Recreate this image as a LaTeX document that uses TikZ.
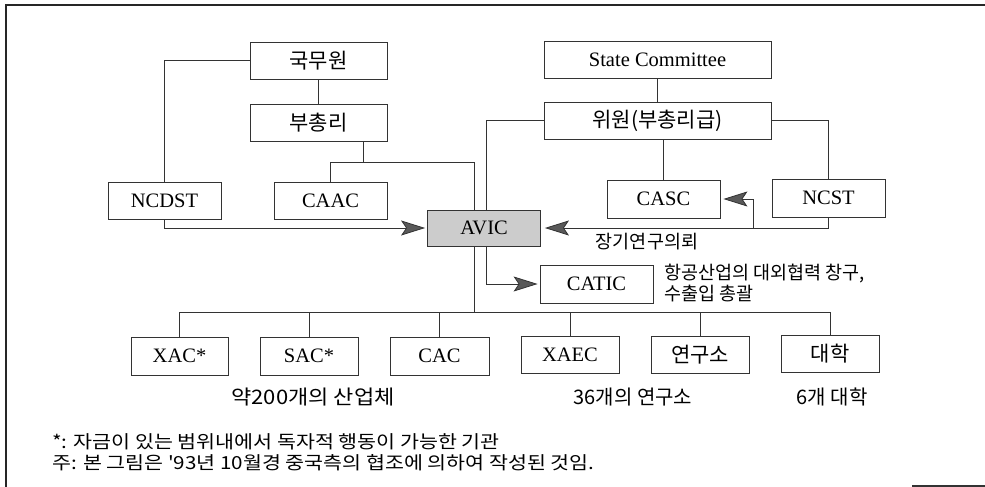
\documentclass[tikz,border=0pt]{standalone}
\usepackage{fontspec}
\setmainfont{Liberation Serif}
\newfontfamily\kr{Noto Sans CJK KR}
\usetikzlibrary{arrows.meta}
\begin{document}
\begin{tikzpicture}[x=1pt,y=-1pt,
  box/.style={draw=black!80,line width=0.8pt,inner sep=0pt,font=\fontsize{20.5}{24}\selectfont},
  krbox/.style={box,font=\kr\fontsize{21}{24}\selectfont},
  conn/.style={draw=black!80,line width=0.8pt},
  arr/.style={conn,-{Stealth[length=24pt,width=15pt,inset=5pt,fill=black!65,line width=0.8pt]}},
  lbl/.style={inner sep=0pt,font=\kr\fontsize{18.5}{21}\selectfont},
  blbl/.style={inner sep=0pt,font=\kr\fontsize{20}{22}\selectfont},
  fnote/.style={inner sep=0pt,transform shape,xscale=1.145,font=\kr\fontsize{18}{21}\selectfont}]
\useasboundingbox (0,0) rectangle (985,487);
% frame
\draw[line width=2pt,black!85] (6,487) -- (6,5) -- (985,5);
\draw[line width=1.2pt,black!80] (912,486) -- (985,486);
% boxes
\node[krbox,minimum width=137pt,minimum height=37pt] (gukmu) at (318.5,60.5) {국무원};
\node[krbox,minimum width=137pt,minimum height=37pt] (buch) at (318.5,122.5) {부총리};
\node[box,minimum width=113pt,minimum height=37pt] (ncdst) at (164.5,200.5) {NCDST};
\node[box,minimum width=113pt,minimum height=37pt] (caac) at (330.5,200.5) {CAAC};
\node[box,fill=black!20,minimum width=113pt,minimum height=36pt] (avic) at (484,228) {AVIC};
\node[box,minimum width=227pt,minimum height=37pt] (state) at (657.5,59.5) {State Committee};
\node[krbox,minimum width=227pt,minimum height=37pt] (wiwon) at (657.5,120.5) {위원(부총리급)};
\node[box,minimum width=113pt,minimum height=38pt] (casc) at (663.5,199) {CASC};
\node[box,minimum width=113pt,minimum height=38pt] (ncst) at (828.5,198) {NCST};
\node[box,minimum width=113pt,minimum height=38pt] (catic) at (596.5,284) {CATIC};
\node[box,minimum width=97pt,minimum height=38pt] (xac) at (179.5,356) {XAC*};
\node[box,minimum width=98pt,minimum height=38pt] (sac) at (309,356) {SAC*};
\node[box,minimum width=99pt,minimum height=38pt] (cac) at (439.5,356) {CAC};
\node[box,minimum width=98pt,minimum height=37pt] (xaec) at (570,354.5) {XAEC};
\node[krbox,minimum width=98pt,minimum height=37pt] (yeon) at (700,354.5) {연구소};
\node[krbox,minimum width=98pt,minimum height=37pt] (dae) at (830,353.5) {대학};
% junction coordinates
\coordinate (j1) at (474,162);
\coordinate (j2) at (486,123);
\coordinate (jb) at (363,162);
\coordinate (b1) at (753,228);
\coordinate (bus) at (474,312);
\coordinate (busL) at (179.5,312);
\coordinate (busR) at (830,312);
% connectors left
\draw[conn] (gukmu.west) -| (ncdst.north);
\draw[conn] (gukmu.south) -- (buch.north);
\draw[conn] (buch.south -| jb) -- (jb);
\draw[conn] (caac.north) |- (j1) -- (j1 |- avic.north);
\draw[arr,shorten >=2pt] (ncdst.south) |- (avic.west);
% connectors right
\draw[conn] (state.south) -- (wiwon.north);
\draw[conn] (wiwon.west) -| (j2 |- avic.north);
\draw[conn] (wiwon.east) -| (ncst.north);
\draw[conn] (wiwon.south -| casc.north) -- (casc.north);
\draw[arr,shorten >=4pt] (ncst.south) |- (avic.east);
\draw[arr,shorten >=3pt] (b1) |- (casc.east);
% lower
\draw[arr,shorten >=2pt] (avic.south -| j2) |- (catic.west);
\draw[conn] (avic.south -| j1) -- (bus);
\draw[conn] (busL) -- (busR);
\foreach \n in {xac,sac,cac,xaec,yeon,dae} {\draw[conn] (bus -| \n.north) -- (\n.north);}
% labels
\node[lbl] (l1) at (647,242) {장기연구의뢰};
\node[lbl,anchor=west,align=left] (l2) at (664,283) {항공산업의 대외협력 창구,\\수출입 총괄};
\node[blbl,transform shape,xscale=1.1] (g1) at (313,397) {약200개의 산업체};
\node[blbl] (g2) at (633,397) {36개의 연구소};
\node[blbl] (g3) at (832,397) {6개 대학};
\node[fnote,anchor=west] (f1) at (52,442) {*: 자금이 있는 범위내에서 독자적 행동이 가능한 기관};
\node[fnote,anchor=west] (f2) at (52,463) {주: 본 그림은 '93년 10월경 중국측의 협조에 의하여 작성된 것임.};
\end{tikzpicture}
\end{document}
